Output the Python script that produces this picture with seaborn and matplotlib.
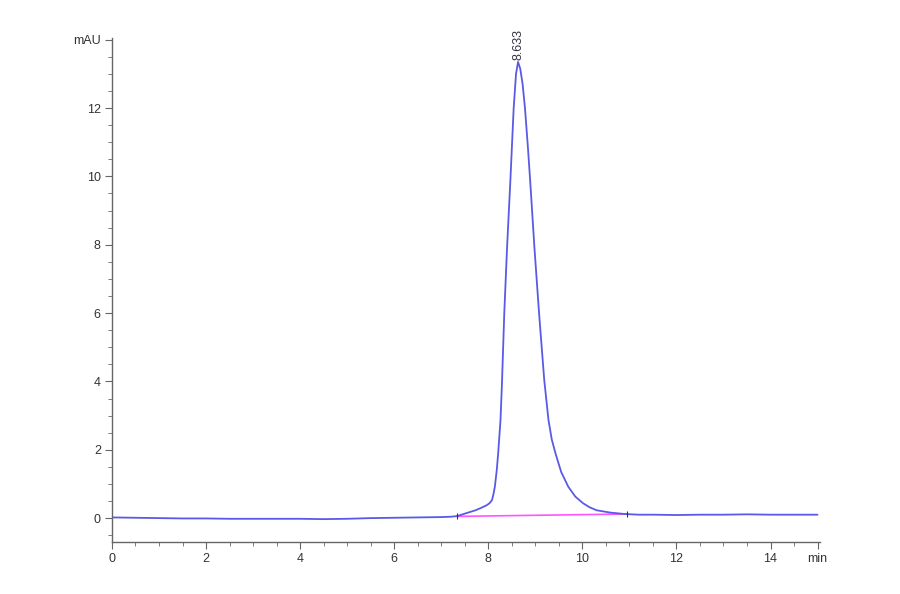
import matplotlib
matplotlib.use("Agg")
import matplotlib.pyplot as plt
import seaborn as sns
import pandas as pd
from matplotlib.ticker import MultipleLocator, FixedLocator

# ---- data ----
time_min = [0, 0.5, 1, 1.5, 2, 2.5, 3, 3.5, 4, 4.5, 5, 5.5, 6, 6.5, 7, 7.2, 7.34,
            7.5, 7.73, 7.85, 7.97, 8.03, 8.08, 8.11, 8.14, 8.18, 8.21, 8.26, 8.29,
            8.34, 8.40, 8.47, 8.54, 8.59, 8.633, 8.68, 8.73, 8.78, 8.84, 8.89, 8.98,
            9.08, 9.19, 9.28, 9.35, 9.43, 9.55, 9.70, 9.85, 10.02, 10.15, 10.30,
            10.6, 10.9, 11.2, 11.5, 12, 12.5, 13, 13.5, 14, 14.5, 15]
absorbance_mAU = [0.02, 0.01, 0.0, -0.01, -0.01, -0.02, -0.02, -0.02, -0.02, -0.03,
                  -0.02, 0.0, 0.01, 0.02, 0.03, 0.04, 0.06,
                  0.13, 0.23, 0.30, 0.38, 0.44, 0.53, 0.7, 0.92, 1.4, 1.89, 2.87, 3.9,
                  5.99, 7.94, 9.89, 12.0, 13.0, 13.35, 13.15, 12.7, 12.0, 10.9, 9.89, 7.94,
                  5.99, 4.04, 2.87, 2.3, 1.89, 1.35, 0.92, 0.63, 0.43, 0.32, 0.23,
                  0.16, 0.12, 0.1, 0.1, 0.09, 0.1, 0.1, 0.11, 0.1, 0.1, 0.1]
baseline_time = [7.34, 10.95]
baseline_mAU = [0.05, 0.12]
peak_rt = 8.633
peak_label = "8.633"
x_ticks = [0, 2, 4, 6, 8, 10, 12, 14, 15]
x_tick_labels = ["0", "2", "4", "6", "8", "10", "12", "14", "min"]
y_ticks = [0, 2, 4, 6, 8, 10, 12, 14]
y_tick_labels = ["0", "2", "4", "6", "8", "10", "12", "mAU"]

df = pd.DataFrame({"time": time_min, "mAU": absorbance_mAU})
bdf = pd.DataFrame({"time": baseline_time, "mAU": baseline_mAU})

sns.set_style("white")
plt.rcParams["font.family"] = ["Liberation Sans", "DejaVu Sans"]

fig = plt.figure(figsize=(9, 5.94), dpi=100)
ax = fig.add_axes([0.1244, 0.0875, 0.7866, 0.8485])

sns.lineplot(data=bdf, x="time", y="mAU", ax=ax, color="#ff55ff", linewidth=1.2)
sns.lineplot(data=df, x="time", y="mAU", ax=ax, color="#5a5ae6", linewidth=1.3,
             sort=False)
ax.plot(baseline_time, baseline_mAU, linestyle="none", marker="|", color="#333333",
        markersize=5, markeredgewidth=0.8)

ax.set_xlim(0, 15.05)
ax.set_ylim(-0.7, 14.05)

ax.xaxis.set_major_locator(FixedLocator(x_ticks))
ax.set_xticklabels(x_tick_labels)
ax.yaxis.set_major_locator(FixedLocator(y_ticks))
ax.set_yticklabels(y_tick_labels)
ax.xaxis.set_minor_locator(MultipleLocator(0.5))
ax.yaxis.set_minor_locator(MultipleLocator(0.5))

for s in ["top", "right"]:
    ax.spines[s].set_visible(False)
for s in ["left", "bottom"]:
    ax.spines[s].set_color("#666666")
    ax.spines[s].set_linewidth(1.0)

ax.tick_params(axis="both", which="major", direction="out", length=5, width=0.8,
               color="#666666", labelsize=9, labelcolor="#333333", pad=3,
               left=True, bottom=True)
ax.tick_params(axis="both", which="minor", direction="out", length=3, width=0.6,
               color="#666666", left=True, bottom=True)
ax.set_xlabel("")
ax.set_ylabel("")

ax.text(peak_rt, 13.4, peak_label, rotation=90, ha="center", va="bottom",
        fontsize=9, color="#333344")

fig.savefig("out.png", dpi=100)
